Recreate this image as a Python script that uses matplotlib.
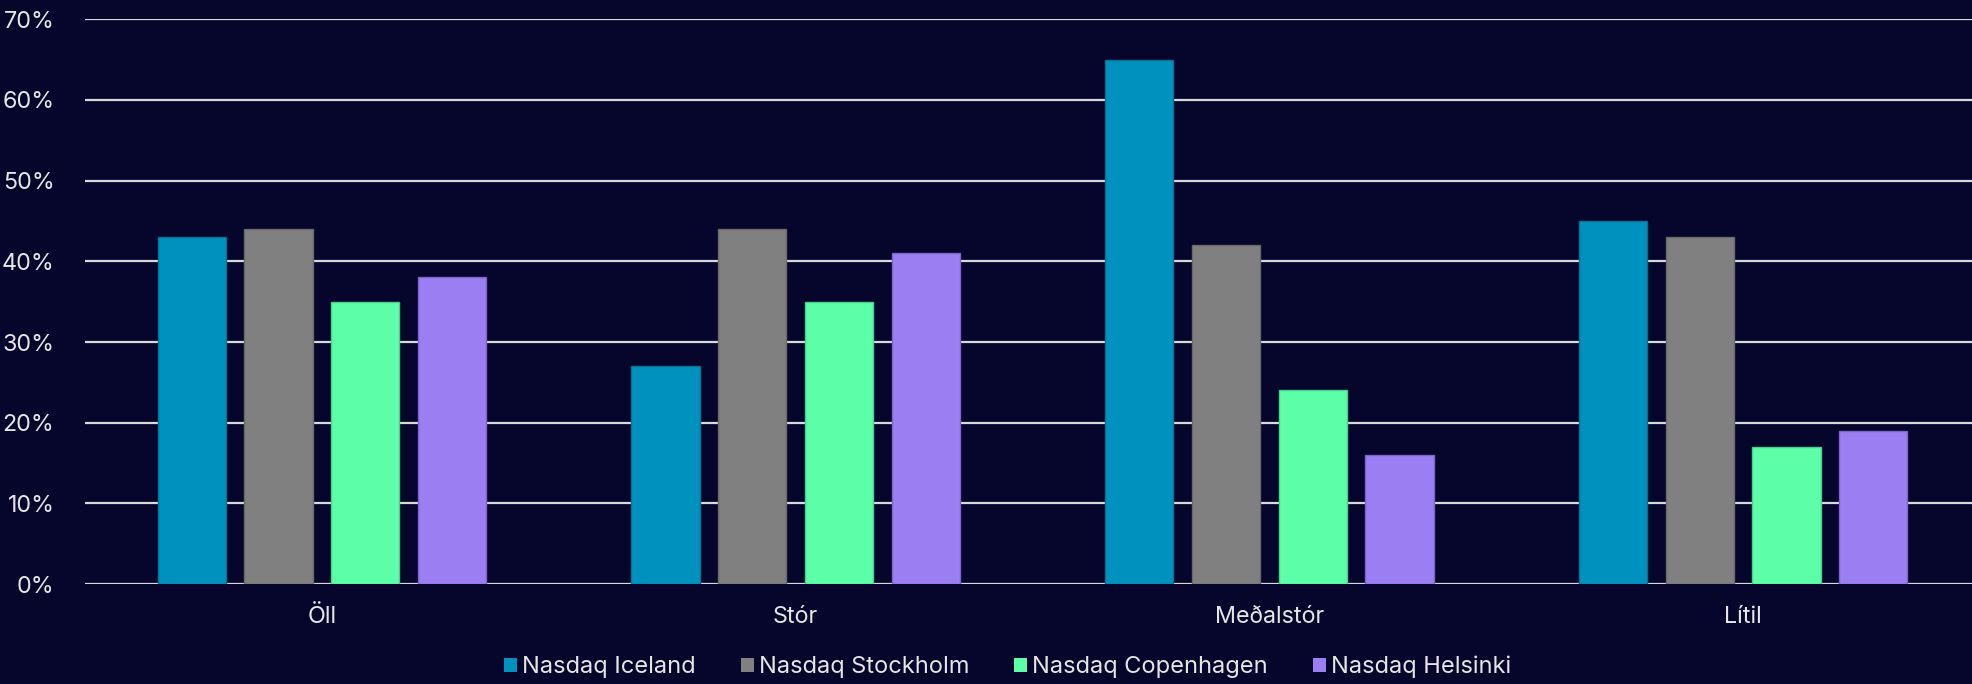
import numpy as np
import matplotlib
matplotlib.use("Agg")
import matplotlib.pyplot as plt
from matplotlib.ticker import FuncFormatter

plt.rcParams['font.family'] = ['Inter', 'DejaVu Sans']

# data
categories = ["Öll", "Stór", "Meðalstór", "Lítil"]
series_names = ["Nasdaq Iceland", "Nasdaq Stockholm", "Nasdaq Copenhagen", "Nasdaq Helsinki"]
iceland = [43, 27, 65, 45]
stockholm = [44, 44, 42, 43]
copenhagen = [35, 35, 24, 17]
helsinki = [38, 41, 16, 19]

bg = "#06052b"
txt = "#e6e6e6"
grid = "#d9d9d9"
colours = ["#0092be", "#808080", "#5cffa8", "#9b7ef2"]
edges = ["#0a6f91", "#6a6a6a", "#4ccf8c", "#7e64c8"]

fig = plt.figure(figsize=(19.72, 6.84), dpi=100, facecolor=bg)
ax = fig.add_axes([0.0431, 0.146, 0.961, 0.826], facecolor=bg)

x = np.arange(len(categories))
width = 0.144
pitch = 0.183
values = [iceland, stockholm, copenhagen, helsinki]
for i, vals in enumerate(values):
    offs = (i - 1.5) * pitch
    ax.bar(x + offs, vals, width=width, color=colours[i], edgecolor=edges[i],
           linewidth=1, label=series_names[i], zorder=3)

ax.set_xlim(-0.5, len(categories) - 0.5)
ax.set_ylim(0, 70)
ax.set_yticks(np.arange(0, 71, 10))
ax.yaxis.set_major_formatter(FuncFormatter(lambda v, p: f"{int(v)}%"))
ax.grid(axis="y", color=grid, linewidth=1.6, zorder=0)
ax.set_xticks(x)
ax.set_xticklabels(categories)
ax.tick_params(axis="both", length=0, colors=txt, labelsize=16.8)
ax.tick_params(axis="y", pad=22)
ax.tick_params(axis="x", pad=16)
for s in ax.spines.values():
    s.set_visible(False)

leg = fig.legend(loc="center", bbox_to_anchor=(0.511, 0.025), ncol=4,
                 frameon=False, fontsize=17, handlelength=0.55, handleheight=0.55,
                 handletextpad=0.22, columnspacing=1.9, labelcolor=txt)
for h in leg.legend_handles:
    h.set_edgecolor("none")

fig.savefig("out.png", dpi=100, facecolor=bg)
